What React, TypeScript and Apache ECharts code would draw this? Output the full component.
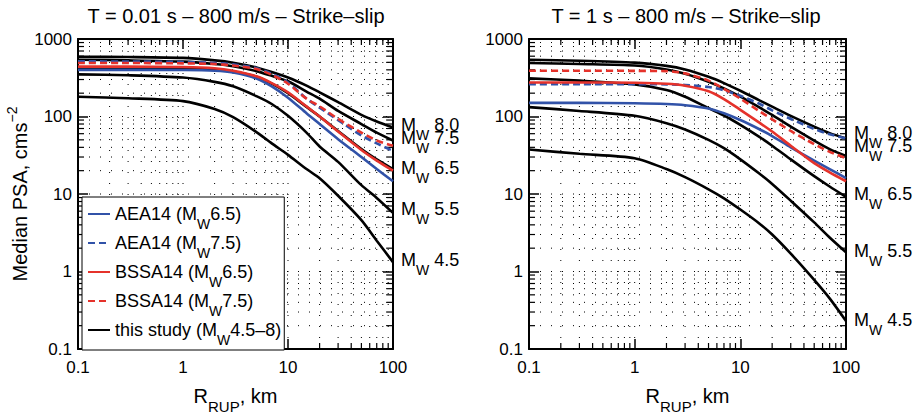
import React, { useEffect, useRef } from "react";
import * as echarts from "echarts";

const FONT = "'Liberation Sans', Arial, Helvetica, sans-serif";
const BLUE = "#3152a8";
const RED = "#e5322b";
const BLACK = "#000000";

// Rupture distances (km)
const R = [0.1, 0.3, 1, 2, 3, 5, 7, 10, 15, 20, 30, 50, 70, 100];

// Panel 1: T = 0.01 s
const p1_this80 = [590, 585, 570, 530, 495, 430, 375, 318, 250, 205, 153, 105, 86, 72];
const p1_this75 = [540, 530, 510, 475, 445, 385, 335, 285, 210, 170, 118, 80, 62, 49];
const p1_this65 = [425, 425, 420, 405, 380, 325, 265, 200, 133, 100, 65, 38, 28, 21];
const p1_this55 = [350, 340, 318, 280, 245, 183, 145, 102, 62, 41, 26, 13, 8.9, 5.7];
const p1_this45 = [180, 172, 158, 125, 98, 63, 45, 32, 21, 16, 9.5, 4.6, 2.5, 1.32];
const p1_aea65 = [400, 400, 398, 390, 370, 310, 245, 175, 110, 80, 51, 30, 21, 14.6];
const p1_aea75 = [515, 512, 505, 490, 470, 420, 355, 275, 170, 130, 90, 57, 45, 36];
const p1_bssa65 = [440, 440, 435, 420, 390, 330, 270, 205, 135, 100, 64, 37, 27, 20];
const p1_bssa75 = [490, 490, 485, 475, 455, 410, 345, 265, 170, 135, 93, 62, 49, 42];

// Panel 2: T = 1 s
const p2_this80 = [540, 525, 495, 450, 405, 325, 270, 215, 163, 134, 102, 74, 61, 52];
const p2_this75 = [490, 475, 455, 405, 355, 280, 230, 180, 132, 105, 74, 49, 38, 31];
const p2_this65 = [310, 290, 260, 220, 180, 128, 103, 78, 55, 42, 28, 17, 12.5, 9.2];
const p2_this55 = [132, 118, 102, 82, 68, 50, 39, 28, 18.5, 13.5, 8.2, 4.3, 2.75, 1.77];
const p2_this45 = [37.5, 33, 29, 21, 16.5, 11.5, 8.8, 6.3, 4.2, 3.0, 1.7, 0.78, 0.45, 0.23];
const p2_aea65 = [150, 150, 148, 145, 140, 127, 110, 90, 69, 56, 40, 27, 21, 16];
const p2_aea75 = [262, 262, 262, 260, 255, 240, 218, 185, 147, 120, 93, 69, 59, 52];
const p2_bssa65 = [275, 275, 272, 265, 250, 212, 168, 122, 84, 64, 42, 25, 19, 14.6];
const p2_bssa75 = [390, 390, 388, 385, 360, 290, 228, 170, 118, 92, 65, 44, 35, 29];

const magLabels = ["8.0", "7.5", "6.5", "5.5", "4.5"];
const titles = ["T = 0.01 s \u2013 800 m/s \u2013 Strike\u2013slip", "T = 1 s \u2013 800 m/s \u2013 Strike\u2013slip"];
const legendNames = ["AEA14 (MW6.5)", "AEA14 (MW7.5)", "BSSA14 (MW6.5)", "BSSA14 (MW7.5)", "this study (MW4.5\u20138)"];

const X_MIN = 0.1, X_MAX = 100, Y_MIN = 0.1, Y_MAX = 1000;
const xMinor = [0.2, 0.3, 0.4, 0.5, 0.6, 0.7, 0.8, 0.9, 2, 3, 4, 5, 6, 7, 8, 9, 20, 30, 40, 50, 60, 70, 80, 90];
const xMajorInner = [1, 10];
const yMinor = [0.2, 0.3, 0.4, 0.5, 0.6, 0.7, 0.8, 0.9, 2, 3, 4, 5, 6, 7, 8, 9, 20, 30, 40, 50, 60, 70, 80, 90, 200, 300, 400, 500, 600, 700, 800, 900];
const yMajorInner = [1, 10, 100];

const richText = {
  a: { fontSize: 18, fontFamily: FONT, color: BLACK },
  s: { fontSize: 14, fontFamily: FONT, color: BLACK, padding: [20, 0, 0, 0] },
};

const fmt = (v: number) => String(Number(Number(v).toPrecision(4)));

function richName(n: string) {
  return "{a|" + n.replace("(MW", "(M}{s|W}{a|") + "}";
}

export default function App() {
  const ref = useRef<HTMLDivElement>(null);
  useEffect(() => {
    if (!ref.current) return;
    const chart = echarts.init(ref.current, undefined, { renderer: "svg" });

    const pts = (v: number[]) => R.map((r, i) => [r, v[i]]);

    const curve = (name: string, vals: number[], g: number, color: string, dashed: boolean, z: number, extra: any = {}) => ({
      type: "line",
      name,
      xAxisIndex: g,
      yAxisIndex: g,
      data: pts(vals),
      symbol: "none",
      showSymbol: false,
      smooth: 0.25,
      silent: true,
      z,
      lineStyle: { color, width: 2.6, type: dashed ? [7, 4] : "solid", cap: "butt" },
      itemStyle: { color },
      ...extra,
    });

    const blackLabel = (i: number, dy: number) => ({
      endLabel: {
        show: true,
        formatter: "{a|M}{s|W}{a| " + magLabels[i] + "}",
        distance: 8,
        offset: [0, dy],
        color: BLACK,
        rich: richText,
      },
    });

    const gridCustom = (g: number) => {
      const data: number[][] = [];
      xMinor.forEach((v) => data.push([v, 1, 0, 1]));
      xMajorInner.forEach((v) => data.push([v, 1, 0, 0]));
      yMinor.forEach((v) => data.push([1, v, 1, 1]));
      yMajorInner.forEach((v) => data.push([1, v, 1, 0]));
      return {
        type: "custom",
        xAxisIndex: g,
        yAxisIndex: g,
        silent: true,
        z: 1,
        data,
        encode: { x: 0, y: 1 },
        renderItem: (params: any, api: any) => {
          const kind = api.value(2);
          const minor = api.value(3);
          const dot = { stroke: "#000", lineWidth: 1, lineDash: [1, 10] };
          const tk = { stroke: "#000", lineWidth: 1.2 };
          const L = 6;
          const children: any[] = [];
          if (kind === 0) {
            const v = api.value(0);
            const b = api.coord([v, Y_MIN]);
            const t = api.coord([v, Y_MAX]);
            children.push({ type: "line", shape: { x1: b[0], y1: b[1], x2: t[0], y2: t[1] }, style: dot });
            if (minor) {
              children.push({ type: "line", shape: { x1: b[0], y1: b[1], x2: b[0], y2: b[1] - L }, style: tk });
              children.push({ type: "line", shape: { x1: t[0], y1: t[1], x2: t[0], y2: t[1] + L }, style: tk });
            }
          } else {
            const v = api.value(1);
            const l = api.coord([X_MIN, v]);
            const r = api.coord([X_MAX, v]);
            children.push({ type: "line", shape: { x1: l[0], y1: l[1], x2: r[0], y2: r[1] }, style: dot });
            if (minor) {
              children.push({ type: "line", shape: { x1: l[0], y1: l[1], x2: l[0] + L, y2: l[1] }, style: tk });
              children.push({ type: "line", shape: { x1: r[0], y1: r[1], x2: r[0] - L, y2: r[1] }, style: tk });
            }
          }
          return { type: "group", children };
        },
      };
    };

    const axisLine = { show: true, onZero: false, lineStyle: { color: BLACK, width: 2 } };
    const axisTick = { show: true, inside: true, length: 10, lineStyle: { color: BLACK, width: 1.5 } };

    const xAxis = (g: number, pos: string, labels: boolean) => ({
      type: "log",
      logBase: 10,
      gridIndex: g,
      min: X_MIN,
      max: X_MAX,
      position: pos,
      axisLine,
      axisTick,
      splitLine: { show: false },
      axisLabel: { show: labels, color: BLACK, fontSize: 17, fontFamily: FONT, margin: 10, formatter: fmt },
      ...(labels
        ? {
            name: "{a|R}{s|RUP}{a|, km}",
            nameLocation: "middle",
            nameGap: 28,
            nameTextStyle: {
              rich: {
                a: { fontSize: 20, fontFamily: FONT, color: BLACK },
                s: { fontSize: 15, fontFamily: FONT, color: BLACK, padding: [22, 0, 0, 0] },
              },
            },
          }
        : {}),
    });

    const yAxis = (g: number, pos: string, labels: boolean, named: boolean) => ({
      type: "log",
      logBase: 10,
      gridIndex: g,
      min: Y_MIN,
      max: Y_MAX,
      position: pos,
      axisLine,
      axisTick,
      splitLine: { show: false },
      axisLabel: { show: labels, color: BLACK, fontSize: 17, fontFamily: FONT, margin: 6, formatter: fmt },
      ...(named
        ? {
            name: "{a|Median PSA, cms}{p|\u22122}",
            nameLocation: "middle",
            nameRotate: 90,
            nameGap: 41,
            nameTextStyle: {
              rich: {
                a: { fontSize: 20, fontFamily: FONT, color: BLACK },
                p: { fontSize: 14, fontFamily: FONT, color: BLACK, padding: [0, 0, 16, 0] },
              },
            },
          }
        : {}),
    });

    const leftDy = [-3, -3, -1, -4, -2];
    const rightDy = [-6, -10, -3, -1, -1];
    const panels = [
      { this: [p1_this80, p1_this75, p1_this65, p1_this55, p1_this45], aea: [p1_aea65, p1_aea75], bssa: [p1_bssa65, p1_bssa75], dy: leftDy },
      { this: [p2_this80, p2_this75, p2_this65, p2_this55, p2_this45], aea: [p2_aea65, p2_aea75], bssa: [p2_bssa65, p2_bssa75], dy: rightDy },
    ];

    const series: any[] = [];
    panels.forEach((p, g) => {
      series.push(gridCustom(g));
      p.this.forEach((vals, i) => series.push(curve(legendNames[4], vals, g, BLACK, false, 2, blackLabel(i, p.dy[i]))));
      series.push(curve(legendNames[0], p.aea[0], g, BLUE, false, 3));
      series.push(curve(legendNames[1], p.aea[1], g, BLUE, true, 3));
      series.push(curve(legendNames[2], p.bssa[0], g, RED, false, 3));
      series.push(curve(legendNames[3], p.bssa[1], g, RED, true, 3));
    });

    chart.setOption({
      animation: false,
      backgroundColor: "#fff",
      grid: [
        { left: 78, top: 39, width: 315, height: 314 },
        { left: 529, top: 39, width: 317, height: 314 },
      ],
      xAxis: [xAxis(0, "bottom", true), xAxis(1, "bottom", true), xAxis(0, "top", false), xAxis(1, "top", false)],
      yAxis: [yAxis(0, "left", true, true), yAxis(1, "left", true, false), yAxis(0, "right", false, false), yAxis(1, "right", false, false)],
      legend: {
        data: legendNames,
        orient: "vertical",
        left: 82,
        top: 197,
        padding: [8, 3, 3, 5],
        itemGap: 3,
        itemWidth: 22,
        itemHeight: 14,
        backgroundColor: "#fff",
        borderColor: BLACK,
        borderWidth: 1,
        borderRadius: 0,
        selectedMode: false,
        z: 10,
        itemStyle: { opacity: 0, borderWidth: 0 },
        textStyle: { color: BLACK, fontFamily: FONT, fontSize: 18, rich: richText },
        formatter: (n: string) => richName(n),
      },
      graphic: [
        { type: "text", x: 236, y: 16, style: { text: titles[0], font: `20px ${FONT}`, fill: BLACK, align: "center", verticalAlign: "middle" } },
        { type: "text", x: 686, y: 16, style: { text: titles[1], font: `20px ${FONT}`, fill: BLACK, align: "center", verticalAlign: "middle" } },
      ],
      series,
    });
    return () => chart.dispose();
  }, []);
  return <div ref={ref} style={{ position: "fixed", left: 0, top: 0, width: 919, height: 419 }} />;
}
